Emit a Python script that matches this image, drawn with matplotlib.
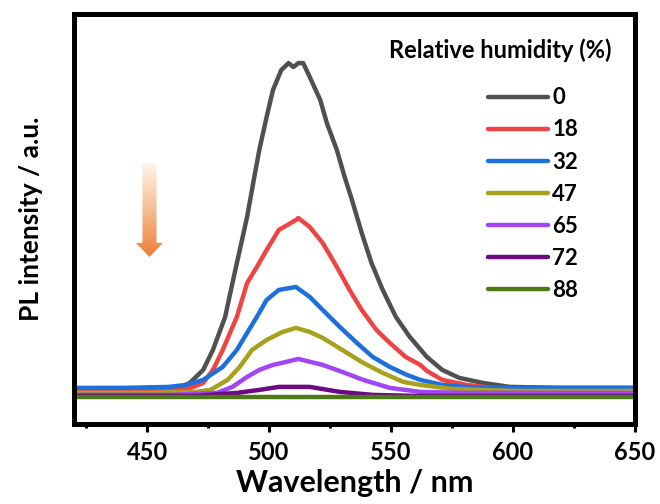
import numpy as np
import matplotlib
matplotlib.use("Agg")
import matplotlib.pyplot as plt
from matplotlib.colors import LinearSegmentedColormap
from matplotlib.patches import Polygon

plt.rcParams['font.family'] = ['Lato', 'DejaVu Sans']
plt.rcParams['font.weight'] = 'bold'
plt.rcParams['axes.labelweight'] = 'bold'

# PL spectra (wavelength in nm, intensity in a.u.)
humidity = ['0', '18', '32', '47', '65', '72', '88']
colors = ['#505050', '#F04444', '#1D6FDC', '#A8A11C', '#A245F5', '#6B0A83', '#4D7A16']

wl_0 = [420, 440, 455, 463, 467.5, 473, 477, 482, 485, 488, 491, 493.5, 496, 499, 501.6, 505,
        508, 510, 512, 514, 516.7, 521, 523.7, 527.8, 531, 534, 538, 542, 546.6, 552, 557.7,
        564.7, 571, 578, 587.6, 598.7, 620, 650]
pl_0 = [6, 6, 7, 9, 14, 27, 47, 80, 114, 147, 180, 214, 247, 280, 307, 327,
        334, 330, 334, 334, 320, 297, 274, 247, 220, 197, 164, 134, 107, 80, 60,
        40, 27, 19, 14, 10, 9, 9]

wl_18 = [420, 440, 460, 468, 473, 477, 481, 486.8, 491, 495, 499, 504, 511, 512, 516.7, 522,
         527.8, 533, 538, 544, 549.5, 556, 562, 564.7, 571, 581, 592, 620, 650]
pl_18 = [6, 6, 7, 9, 14, 27, 47, 80, 114, 130, 147, 167, 177, 179, 170, 154,
         130, 107, 87, 67, 54, 40, 32, 26, 17, 12, 9, 8, 8]

wl_32 = [420, 440, 459, 466, 473, 481, 486.8, 491, 495, 499, 504, 511, 516.7, 522, 529,
         536, 542.5, 549.5, 556.5, 562, 571, 585, 620, 650]
pl_32 = [9, 9, 10, 12, 17, 30, 47, 64, 80, 97, 107, 110, 100, 87, 70,
         54, 40, 30, 22, 17, 12, 9, 9, 9]

wl_47 = [420, 450, 470, 476, 483, 488, 493, 499, 505.6, 511, 516.7, 522, 530, 538.6, 546.6,
         555, 562, 575, 600, 650]
pl_47 = [4, 4, 5, 7, 17, 30, 47, 57, 65, 69, 65, 59, 47, 34, 24,
         15, 12, 8, 6, 6]

wl_65 = [420, 460, 478.6, 485, 491, 496, 501.6, 507, 512, 522, 530, 538.6, 549.5, 562,
         580, 650]
pl_65 = [2, 2, 4, 10, 20, 27, 32, 35, 38, 32, 25, 17, 9, 5, 4, 4]

wl_72 = [420, 470, 487, 496, 504, 511, 516.7, 529, 542.5, 560, 650]
pl_72 = [1, 1, 4, 7, 10, 10, 10, 5, 2, 1, 1]

wl_88 = [420, 500, 650]
pl_88 = [0, 0, 0]

wavelengths = [wl_0, wl_18, wl_32, wl_47, wl_65, wl_72, wl_88]
spectra = [pl_0, pl_18, pl_32, pl_47, pl_65, pl_72, pl_88]

fig = plt.figure(figsize=(6.6, 5.04), dpi=100)
ax = fig.add_axes([0.112, 0.159, 0.850, 0.813])

for wl, pl, c, lab in zip(wavelengths, spectra, colors, humidity):
    ax.plot(wl, pl, color=c, lw=3.2, label=lab, solid_capstyle='round')

ax.set_xlim(420, 650)
ax.set_ylim(-27, 383)
ax.set_xticks([450, 500, 550, 600, 650])
ax.set_xticks(np.arange(425, 651, 50), minor=True)
ax.set_yticks([])
for s in ax.spines.values():
    s.set_linewidth(3.6)
ax.tick_params(axis='x', which='major', direction='out', length=6, width=2.2,
               labelsize=17, pad=6)
ax.tick_params(axis='x', which='minor', direction='out', length=3, width=2.2)
for t in ax.get_xticklabels():
    t.set_fontweight('bold')

ax.set_xlabel('Wavelength / nm', fontsize=22, labelpad=4)
ax.set_ylabel('PL intensity / a.u.', fontsize=19, labelpad=22)

# legend
ax.text(0.5615, 0.911, 'Relative humidity (%)', transform=ax.transAxes,
        fontsize=17, ha='left', va='center')
leg = ax.legend(loc='upper right', bbox_to_anchor=(0.915, 0.843), frameon=False,
                fontsize=16, handlelength=2.7, handletextpad=0.2,
                labelspacing=0.5, borderaxespad=0)

# gradient arrow
aax = fig.add_axes([0.206, 0.490, 0.041, 0.1865])
aax.set_xlim(0, 1)
aax.set_ylim(0, 1)
aax.axis('off')
cmap = LinearSegmentedColormap.from_list('arr', ['#EE7E33', '#F6BC91', '#FEF4EC'])
grad = np.linspace(0, 1, 200).reshape(-1, 1)
img = aax.imshow(grad, cmap=cmap, extent=[0, 1, 0, 1], origin='lower', aspect='auto')
shape = Polygon([[0.24, 1], [0.76, 1], [0.76, 0.15], [1, 0.15], [0.5, 0],
                 [0, 0.15], [0.24, 0.15]], closed=True, transform=aax.transData,
                facecolor='none', edgecolor='none')
aax.add_patch(shape)
img.set_clip_path(shape)

fig.savefig('out.png', dpi=100)
